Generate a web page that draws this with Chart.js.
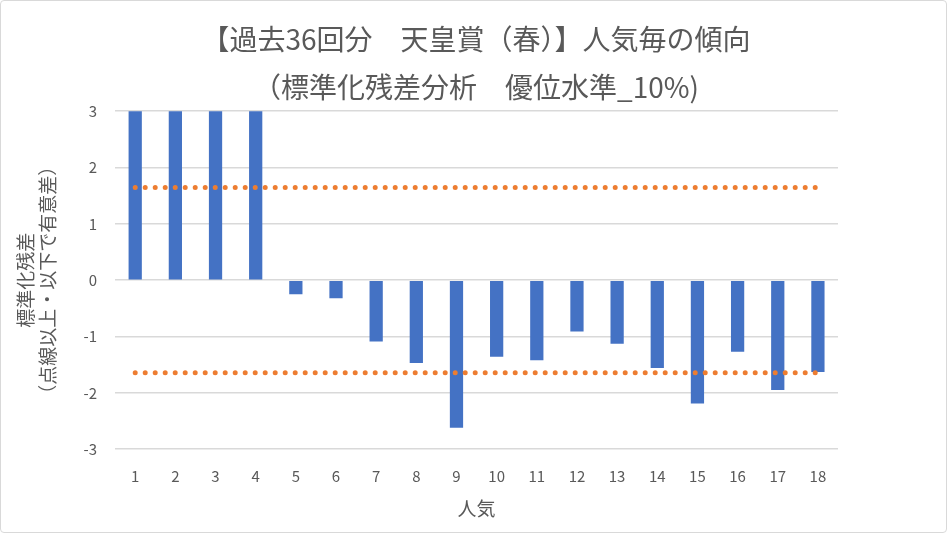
<!DOCTYPE html>
<html lang="ja">
<head>
<meta charset="utf-8">
<title>天皇賞（春） 人気毎の傾向</title>
<script src="https://cdn.jsdelivr.net/npm/chart.js@4.4.1/dist/chart.umd.min.js"></script>
<style>
  html, body { margin: 0; padding: 0; background: #fff; }
  #wrap {
    position: relative;
    width: 947px;
    height: 533px;
    box-sizing: border-box;
    border: 1px solid #d9d9d9;
    border-radius: 4px;
  }
</style>
</head>
<body>
<div id="wrap">
  <canvas id="chart"></canvas>
</div>
<script>
// 人気 (popularity rank)
const categories = ['1', '2', '3', '4', '5', '6', '7', '8', '9', '10', '11', '12', '13', '14', '15', '16', '17', '18'];

// 標準化残差 (ranks 1-4 run past the top of the axis)
const residuals = [4.4, 3.7, 4.0, 3.3, -0.25, -0.32, -1.09, -1.47, -2.62, -1.36, -1.42, -0.91, -1.13, -1.56, -2.19, -1.27, -1.95, -1.63];

// 優位水準10% threshold lines
const upperLine = [1.645, 1.645, 1.645, 1.645, 1.645, 1.645, 1.645, 1.645, 1.645, 1.645, 1.645, 1.645, 1.645, 1.645, 1.645, 1.645, 1.645, 1.645];
const lowerLine = [-1.645, -1.645, -1.645, -1.645, -1.645, -1.645, -1.645, -1.645, -1.645, -1.645, -1.645, -1.645, -1.645, -1.645, -1.645, -1.645, -1.645, -1.645];

const titleLines = ['【過去36回分　天皇賞（春）】人気毎の傾向', '（標準化残差分析　優位水準_10%)'];
const yTitleLines = ['標準化残差', '（点線以上・以下で有意差）'];
const xTitle = '人気';

const textGray = '#595959';
const gridGray = '#d9d9d9';
const jpFont = '"Noto Sans CJK JP", "Noto Sans", sans-serif';

const dotted = (data) => ({
  type: 'line',
  data: data,
  borderColor: '#ED7D31',
  borderWidth: 5,
  borderDash: [0, 10],
  borderCapStyle: 'round',
  pointRadius: 0,
  fill: false,
  order: 0
});

new Chart(document.getElementById('chart').getContext('2d'), {
  type: 'bar',
  data: {
    labels: categories,
    datasets: [
      {
        label: '標準化残差',
        data: residuals,
        backgroundColor: '#4472C4',
        barPercentage: 0.33,
        categoryPercentage: 1,
        order: 1
      },
      dotted(upperLine),
      dotted(lowerLine)
    ]
  },
  options: {
    responsive: true,
    maintainAspectRatio: false,
    animation: false,
    layout: { padding: { left: 13, right: 8, top: 15, bottom: 12 } },
    plugins: {
      legend: { display: false },
      tooltip: { enabled: false },
      title: {
        display: true,
        text: titleLines,
        color: textGray,
        font: { family: jpFont, size: 28, weight: 'normal', lineHeight: 1.7 },
        padding: { top: 0, bottom: 0 }
      }
    },
    scales: {
      x: {
        grid: { display: false },
        border: { display: false },
        ticks: { color: textGray, font: { family: jpFont, size: 15 }, padding: 10 },
        title: {
          display: true,
          text: xTitle,
          color: textGray,
          font: { family: jpFont, size: 19 },
          padding: { top: 2, bottom: 0 }
        }
      },
      y: {
        min: -3,
        max: 3,
        ticks: { stepSize: 1, color: textGray, font: { family: jpFont, size: 15 }, padding: 18 },
        grid: { color: gridGray, lineWidth: 1.5, drawTicks: false },
        border: { display: false },
        title: {
          display: true,
          text: yTitleLines,
          color: textGray,
          font: { family: jpFont, size: 19, lineHeight: 1.2 },
          padding: { top: 0, bottom: 6 }
        }
      },
      // empty right-hand margin so the title centres on the whole frame
      yRight: {
        position: 'right',
        display: true,
        grid: { display: false },
        border: { display: false },
        ticks: { display: false },
        afterFit: (scale) => { scale.width = 100; }
      }
    }
  }
});
</script>
</body>
</html>
